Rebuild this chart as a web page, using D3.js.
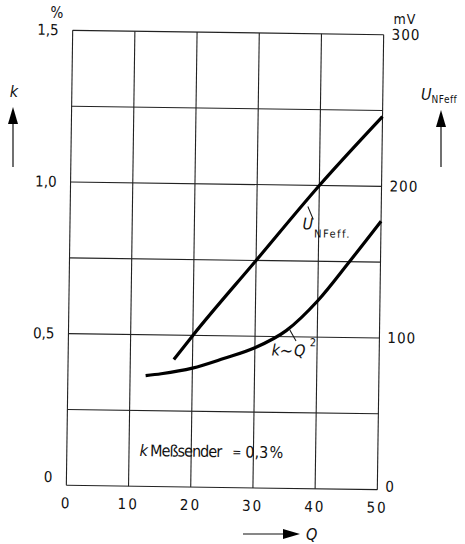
<html>
  <head>
    <script src="https://d3js.org/d3.v7.min.js"></script>
    <meta charset="UTF-8">
    <style>
      body { margin: 0; background: #fff; }
      text { font-family: "DejaVu Sans Condensed", "DejaVu Sans", sans-serif; font-stretch: condensed; fill: #111; }
    </style>
  </head>
  <body>
    <script>
    // values
    var qTicks = [0, 10, 20, 30, 40, 50];
    var kTicks = [0, 0.5, 1.0, 1.5];
    var kTickLabels = ["0", "0,5", "1,0", "1,5"];
    var uTicks = [0, 100, 200, 300];

    // k ~ Q^2 (in %)
    var kQ = [12.5, 15, 20, 25, 30, 35, 40, 45, 50];
    var kVal = [0.365, 0.372, 0.392, 0.425, 0.462, 0.52, 0.62, 0.75, 0.885];

    // U NFeff (in mV)
    var uQ = [17, 20, 30, 40, 50];
    var uVal = [84, 100, 150, 200, 246];

    var W = 465, H = 544;
    var pL = 69.5, pR = 380.5, pT = 32.5, pB = 487.5;

    var svg = d3.select("body").append("svg")
        .attr("width", W).attr("height", H);

    // the scan is slightly turned
    var g = svg.append("g").attr("transform", "rotate(0.8, 225, 260)");

    var x = d3.scaleLinear().domain([0, 50]).range([pL, pR]);
    var yk = d3.scaleLinear().domain([0, 1.5]).range([pB, pT]);
    var yu = d3.scaleLinear().domain([0, 300]).range([pB, pT]);

    // grid
    g.selectAll("line.v").data(qTicks).enter().append("line")
        .attr("x1", d => x(d)).attr("x2", d => x(d))
        .attr("y1", pT).attr("y2", pB)
        .attr("stroke", "#222").attr("stroke-width", 1.1);
    g.selectAll("line.h").data(d3.range(0, 1.51, 0.25)).enter().append("line")
        .attr("x1", pL).attr("x2", pR)
        .attr("y1", d => yk(d)).attr("y2", d => yk(d))
        .attr("stroke", "#222").attr("stroke-width", 1.1);

    // left ticks
    g.selectAll("text.kt").data(kTicks).enter().append("text")
        .attr("x", pL - 14).attr("y", d => yk(d) + (d == 0 ? -3 : 5))
        .attr("text-anchor", "end").attr("font-size", 15)
        .text((d, i) => kTickLabels[i]);

    // right ticks
    g.selectAll("text.ut").data(uTicks).enter().append("text")
        .attr("x", pR + 8).attr("y", d => yu(d) + (d == 0 ? 2 : 5))
        .attr("text-anchor", "start").attr("font-size", 15)
        .attr("letter-spacing", 1)
        .text(d => d);

    // bottom ticks
    g.selectAll("text.qt").data(qTicks).enter().append("text")
        .attr("x", d => x(d)).attr("y", pB + 23)
        .attr("text-anchor", "middle").attr("font-size", 15)
        .attr("letter-spacing", 2)
        .text(d => d);

    // curves
    var lineK = d3.line().curve(d3.curveMonotoneX)
        .x((d, i) => x(kQ[i])).y(d => yk(d));
    g.append("path").datum(kVal).attr("d", lineK)
        .attr("fill", "none").attr("stroke", "#000").attr("stroke-width", 3.2);

    var lineU = d3.line().curve(d3.curveMonotoneX)
        .x((d, i) => x(uQ[i])).y(d => yu(d));
    g.append("path").datum(uVal).attr("d", lineU)
        .attr("fill", "none").attr("stroke", "#000").attr("stroke-width", 3.2);

    // curve labels with leaders
    g.append("line").attr("x1", x(38.2)).attr("y1", yu(186)).attr("x2", x(39.1)).attr("y2", yu(177.5))
        .attr("stroke", "#111").attr("stroke-width", 1);
    var ul = g.append("text").attr("x", x(37.4)).attr("y", yu(171)).attr("font-size", 16).attr("font-style", "italic");
    ul.append("tspan").text("U");
    ul.append("tspan").attr("dy", 8).attr("dx", 1).attr("font-size", 11).attr("font-style", "normal").attr("letter-spacing", 1.5).text("NFeff.");

    g.append("line").attr("x1", x(35.4)).attr("y1", yk(0.529)).attr("x2", x(36.6)).attr("y2", yk(0.486))
        .attr("stroke", "#111").attr("stroke-width", 1);
    var ky = yk(0.437);
    g.append("text").attr("x", x(32.7)).attr("y", ky).attr("font-size", 16).attr("font-style", "italic").text("k");
    g.append("text").attr("x", x(34.0)).attr("y", ky + 1).attr("font-size", 18).text("\u223C");
    g.append("text").attr("x", x(36.3)).attr("y", ky).attr("font-size", 16).attr("font-style", "italic").text("Q");
    g.append("text").attr("x", x(38.8)).attr("y", ky - 10).attr("font-size", 11).text("2");

    // note
    var ny = yk(0.1);
    g.append("text").attr("x", x(11.7)).attr("y", ny).attr("font-size", 16).attr("font-style", "italic").text("k");
    g.append("text").attr("x", x(13.4)).attr("y", ny).attr("font-size", 16).attr("textLength", 72).text("Meßsender");
    g.append("text").attr("x", x(26.6)).attr("y", ny - 1).attr("font-size", 12).text("=");
    g.append("text").attr("x", x(28.7)).attr("y", ny).attr("font-size", 16).text("0,3");
    g.append("text").attr("x", x(32.6)).attr("y", ny).attr("font-size", 16).text("%");

    // axis titles, placed on the page
    svg.append("text").attr("x", 57).attr("y", 18).attr("text-anchor", "middle").attr("font-size", 15).text("%");
    svg.append("text").attr("x", 405).attr("y", 24).attr("text-anchor", "middle").attr("font-size", 14).attr("letter-spacing", 1).text("mV");

    svg.append("text").attr("x", 14).attr("y", 97).attr("text-anchor", "middle").attr("font-size", 16).attr("font-style", "italic").text("k");
    var ut = svg.append("text").attr("x", 421).attr("y", 100).attr("font-size", 16).attr("font-style", "italic");
    ut.append("tspan").text("U");
    ut.append("tspan").attr("dy", 3).attr("font-size", 10).attr("font-style", "normal").attr("letter-spacing", 0.5).text("NFeff");

    function arrowUp(cx, yTop, yBot) {
      svg.append("line").attr("x1", cx).attr("x2", cx).attr("y1", yTop + 14).attr("y2", yBot)
          .attr("stroke", "#111").attr("stroke-width", 1.2);
      svg.append("path").attr("d", "M" + cx + "," + yTop + " L" + (cx - 5) + "," + (yTop + 17) + " L" + (cx + 5) + "," + (yTop + 17) + "Z")
          .attr("fill", "#000");
    }
    arrowUp(13, 107, 167);
    arrowUp(441, 110, 167);

    // Q arrow
    svg.append("line").attr("x1", 243).attr("x2", 286).attr("y1", 534).attr("y2", 534)
        .attr("stroke", "#111").attr("stroke-width", 1.2);
    svg.append("path").attr("d", "M300,534 L283,529 L283,539 Z").attr("fill", "#000");
    svg.append("text").attr("x", 306).attr("y", 540).attr("font-size", 16).attr("font-style", "italic").text("Q");
    </script>
  </body>
</html>
